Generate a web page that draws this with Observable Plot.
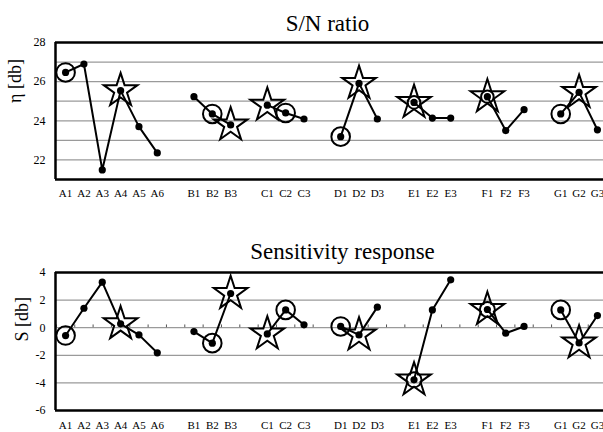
<!DOCTYPE html>
<html>
<head>
<meta charset="utf-8">
<script src="https://cdn.jsdelivr.net/npm/d3@7"></script>
<script src="https://cdn.jsdelivr.net/npm/@observablehq/plot@0.6"></script>
<style>
  html, body { margin: 0; padding: 0; background: white; overflow: hidden; }
  #charts svg { display: block; overflow: hidden; }
</style>
</head>
<body>
<div id="charts"></div>
<script>
// ---- data ----
const factors = ["A", "B", "C", "D", "E", "F", "G"];
const levelCounts = [6, 3, 3, 3, 3, 3, 3];
const levelLabels = ["A1","A2","A3","A4","A5","A6","B1","B2","B3","C1","C2","C3",
                     "D1","D2","D3","E1","E2","E3","F1","F2","F3","G1","G2","G3"];
const snRatio = [26.47, 26.90, 21.49, 25.54, 23.70, 22.36,
                 25.23, 24.35, 23.79,
                 24.80, 24.40, 24.09,
                 23.19, 25.91, 24.09,
                 24.94, 24.14, 24.14,
                 25.23, 23.50, 24.57,
                 24.35, 25.45, 23.54];
const sensitivity = [-0.57, 1.41, 3.30, 0.28, -0.52, -1.82,
                     -0.28, -1.12, 2.48,
                     -0.45, 1.29, 0.21,
                     0.09, -0.52, 1.49,
                     -3.78, 1.29, 3.47,
                     1.32, -0.40, 0.09,
                     1.29, -1.10, 0.88];
const circled = ["A1", "B2", "C2", "D1", "G1"];
const starred = ["A4", "B3", "C1", "D2", "G2"];
const starCircled = ["E1", "F1"];
const snTicks = [22, 24, 26, 28];
const snGrid = [22, 23, 24, 25, 26, 27];
const sensTicks = [-6, -4, -2, 0, 2, 4];
const sensGrid = [-4, -2, 0, 2];

const FONT = "'Liberation Serif', 'DejaVu Serif', serif";

// ---- positions: one empty slot between factors ----
const pos = [];
const factorOf = [];
{
  let p = 0;
  factors.forEach((f, fi) => {
    for (let l = 0; l < levelCounts[fi]; l++) { pos.push(p); factorOf.push(f); p++; }
    p++;
  });
}
const nSlots = pos[pos.length - 1] + 1;
const boundaries = d3.range(-0.5, nSlots, 1);

function table(values) {
  return levelLabels.map((label, i) => ({label, factor: factorOf[i], x: pos[i], y: values[i]}));
}
const labelAt = new Map(pos.map((p, i) => [p, levelLabels[i]]));

function chart({values, yDomain, ticks, grid, title, titleDx, titleBaseline, ylabel, ylabelDx, ylabelDy,
                marginTop, marginBottom, tickPad, zeroTicks, innerCircleR}) {
  const data = table(values);
  const sel = set => data.filter(d => set.includes(d.label));
  const marks = [
    Plot.ruleY(grid, {stroke: "#9a9a9a", strokeWidth: 1.2}),
    zeroTicks ? Plot.ruleX(boundaries, {x: d => d, y1: 0, y2: (yDomain[1] - yDomain[0]) * 0.02, stroke: "#555", strokeWidth: 1}) : null,
    Plot.ruleY([yDomain[0], yDomain[1]], {stroke: "black", strokeWidth: 2.5}),
    Plot.ruleX([-0.55], {stroke: "black", strokeWidth: 2.5}),
    Plot.axisY({ticks, label: null, tickSize: 0, tickPadding: 10, fontSize: 12, fontFamily: FONT, tickFormat: d => String(d)}),
    Plot.axisX({ticks: pos, label: null, tickSize: 0, tickPadding: tickPad, fontSize: 11, fontFamily: FONT, tickFormat: p => labelAt.get(p)}),
    Plot.line(data, {x: "x", y: "y", z: "factor", stroke: "black", strokeWidth: 2}),
    Plot.dot(data, {x: "x", y: "y", r: 3.6, fill: "black"}),
    Plot.dot(sel(circled), {x: "x", y: "y", r: 9.3, stroke: "black", strokeWidth: 2, fill: "none"}),
    Plot.dot(sel(starCircled), {x: "x", y: "y", r: innerCircleR, stroke: "black", strokeWidth: 2, fill: "none"}),
    Plot.dot(sel(starred.concat(starCircled)), {x: "x", y: "y", r: 10.6, symbol: "star", stroke: "black", strokeWidth: 2, fill: "none"}),
    Plot.text([title], {frameAnchor: "top", dx: titleDx, dy: -(marginTop - titleBaseline), lineAnchor: "bottom",
                        fontSize: 23, fontFamily: FONT, fill: "black"}),
    Plot.text([ylabel], {frameAnchor: "left", rotate: -90, dx: ylabelDx, dy: ylabelDy, fontSize: 18, fontFamily: FONT, fill: "black"})
  ].filter(Boolean);
  return Plot.plot({
    width: 603,
    height: 216,
    marginLeft: 55,
    marginRight: 0,
    marginTop,
    marginBottom,
    x: {type: "linear", domain: [-0.55, nSlots - 0.45], range: [55, 607], axis: null, label: null},
    y: {domain: yDomain, axis: null, label: null},
    style: {fontFamily: FONT, background: "white", color: "black", overflow: "hidden"},
    marks
  });
}

const root = document.getElementById("charts");
root.appendChild(chart({
  values: snRatio, yDomain: [21, 28], ticks: snTicks, grid: snGrid,
  title: "S/N ratio", titleDx: -2, titleBaseline: 30,
  ylabel: "η [db]", ylabelDx: -40, ylabelDy: -8,
  marginTop: 42, marginBottom: 37, tickPad: 10, zeroTicks: false, innerCircleR: 6.3
}));
root.appendChild(chart({
  values: sensitivity, yDomain: [-6, 4], ticks: sensTicks, grid: sensGrid,
  title: "Sensitivity response", titleDx: 13, titleBaseline: 42,
  ylabel: "S [db]", ylabelDx: -33, ylabelDy: 0,
  marginTop: 56, marginBottom: 22, tickPad: 11, zeroTicks: true, innerCircleR: 7.5
}));
</script>
</body>
</html>
